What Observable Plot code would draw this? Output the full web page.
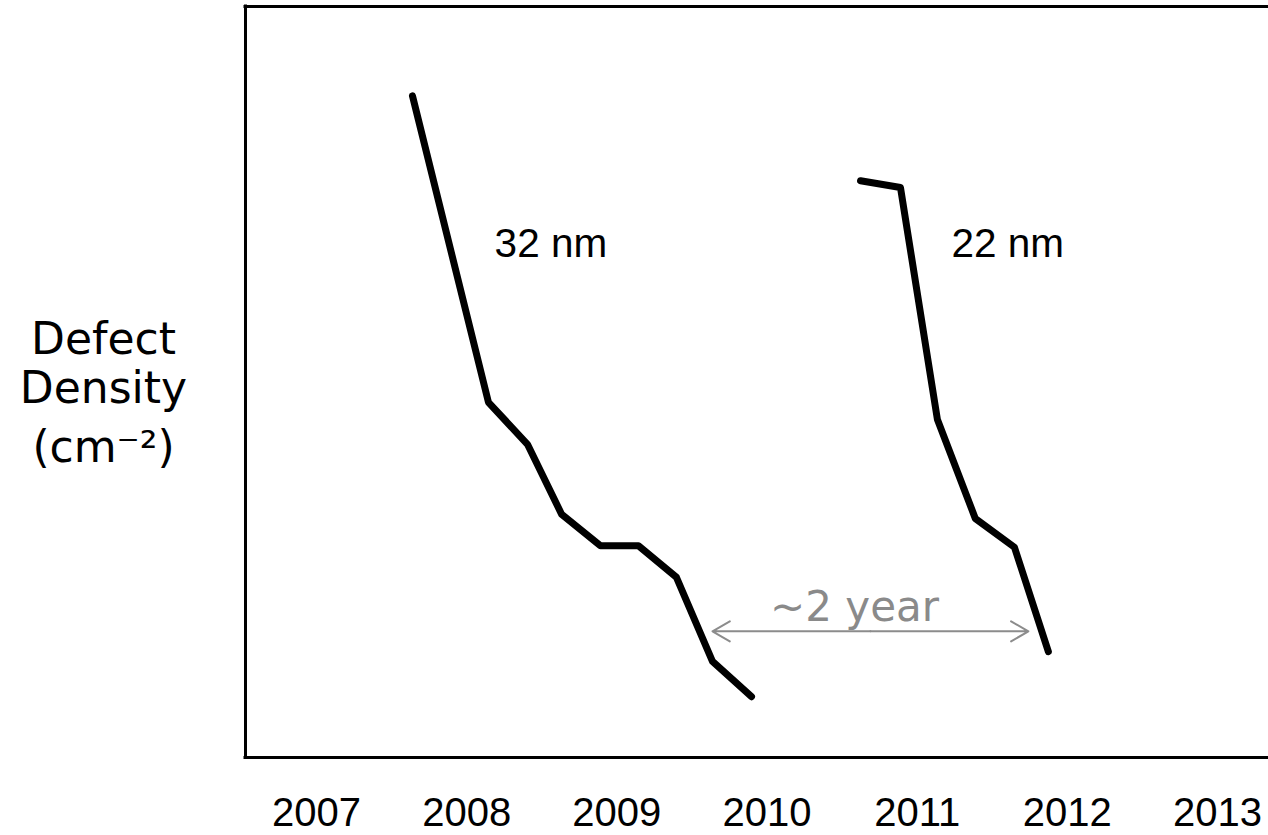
<!DOCTYPE html>
<html>
<head>
<meta charset="utf-8">
<script src="https://cdn.jsdelivr.net/npm/d3@7"></script>
<script src="https://cdn.jsdelivr.net/npm/@observablehq/plot@0.6"></script>
<style>
  body { margin: 0; background: #fff; }
  #chart svg { display: block; }
</style>
</head>
<body>
<div id="chart"></div>
<script>
// 32 nm defect density learning curve (relative units, 0 = bottom of frame, 100 = top)
const years32   = [2007.639, 2008.145, 2008.405, 2008.632, 2008.891, 2009.144, 2009.397, 2009.637, 2009.897];
const density32 = [88.1, 47.3, 41.7, 32.4, 28.2, 28.2, 24.0, 12.8, 8.1];

// 22 nm defect density learning curve
const years22   = [2010.623, 2010.889, 2011.135, 2011.388, 2011.648, 2011.874];
const density22 = [76.8, 75.9, 45.0, 31.8, 28.0, 14.1];

// Axis ticks and extent
const yearTicks = [2007, 2008, 2009, 2010, 2011, 2012, 2013];
const xDomain = [2006.527, 2013.34];
const yDomain = [0, 100];

// Node labels
const nodeLabels   = ["32 nm", "22 nm"];
const nodeLabelX   = [2008.186, 2011.229];
const nodeLabelY   = [68.4, 68.4];

// "~2 year" gap annotation
const gapLabel = ["~2 year"];
const gapYears = [2009.637, 2011.741];
const gapLevel = [16.8];
const gapLabelX = [2010.583];
const gapLabelY = [20.0];

// Y axis title lines
const yTitleLines = ["Defect", "Density", "(cm⁻²)"];
const yTitleY     = [52.5, 41.4];

const gapMid = (gapYears[0] + gapYears[1]) / 2;
const arrowData = gapYears.map(g => ({x1: gapMid, x2: g, y: gapLevel[0]}));
const yTitleText = [yTitleLines.slice(0, 2).join("\n"), yTitleLines[2]];

const chart = Plot.plot({
  width: 1268,
  height: 835,
  marginLeft: 245,
  marginRight: 0,
  marginTop: 6,
  marginBottom: 78,
  x: {domain: xDomain},
  y: {domain: yDomain, axis: null},
  style: {background: "#fff", fontFamily: "'Liberation Sans', Arial, sans-serif", color: "#000"},
  marks: [
    Plot.axisX(yearTicks, {tickSize: 0, tickPadding: 40, fontSize: 40, tickFormat: d => String(d), label: null, fill: "#000"}),
    // frame: left, top, bottom (right edge lies outside the picture)
    Plot.ruleX([xDomain[0]], {stroke: "#000", strokeWidth: 3, strokeLinecap: "square"}),
    Plot.ruleY([yDomain[1], yDomain[0]], {stroke: "#000", strokeWidth: 3, strokeLinecap: "square"}),
    // curves
    Plot.line(years32, {x: years32, y: density32, stroke: "#000", strokeWidth: 7, strokeLinejoin: "round", strokeLinecap: "round"}),
    Plot.line(years22, {x: years22, y: density22, stroke: "#000", strokeWidth: 7, strokeLinejoin: "round", strokeLinecap: "round"}),
    // node labels
    Plot.text(nodeLabels, {x: nodeLabelX, y: nodeLabelY, text: nodeLabels, textAnchor: "start", lineAnchor: "middle", fontSize: 40.5, fill: "#000", fontFamily: "'Liberation Sans', Arial, sans-serif"}),
    // gap arrow
    Plot.arrow(arrowData, {x1: "x1", x2: "x2", y1: "y", y2: "y", stroke: "#8c8c8c", strokeWidth: 2, headLength: 15, headAngle: 60}),
    Plot.text(gapLabel, {x: gapLabelX, y: gapLabelY, text: gapLabel, textAnchor: "middle", lineAnchor: "middle", fontSize: 42, fill: "#8a8a8a", fontFamily: "'DejaVu Sans', Verdana, sans-serif"}),
    // y title
    Plot.text(yTitleText, {x: yTitleText.map(() => xDomain[0]), y: yTitleY, text: yTitleText, dx: -142, textAnchor: "middle", lineAnchor: "middle", lineHeight: 1.114, fontSize: 44, fill: "#000", fontFamily: "'DejaVu Sans', Verdana, sans-serif"})
  ]
});
document.getElementById("chart").appendChild(chart);
</script>
</body>
</html>
